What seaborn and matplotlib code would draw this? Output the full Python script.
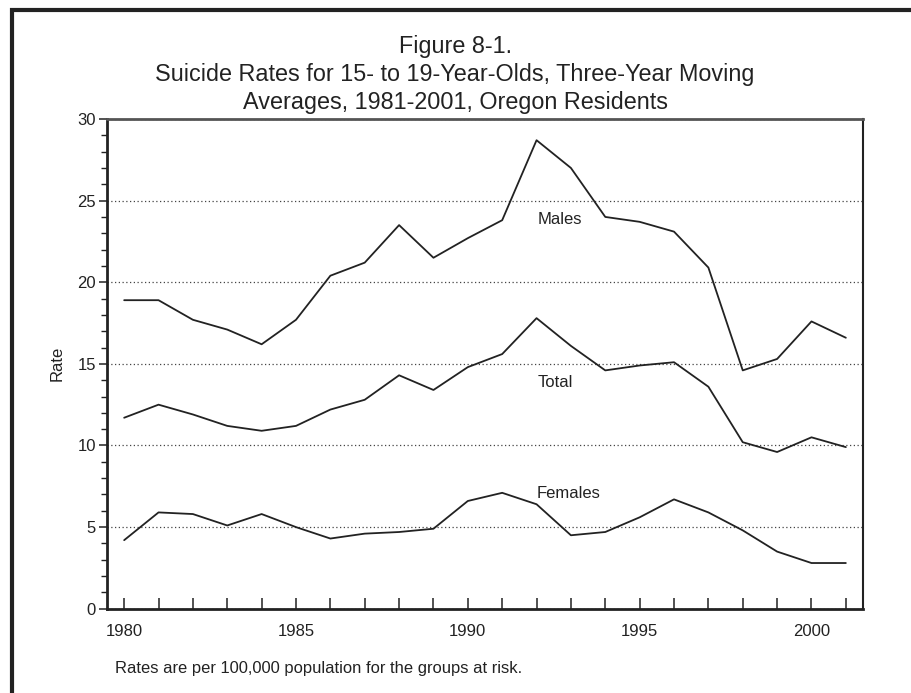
import matplotlib
matplotlib.use("Agg")
import matplotlib.pyplot as plt
from matplotlib.patches import Rectangle
from matplotlib.ticker import MultipleLocator, FixedLocator
import numpy as np
import pandas as pd
import seaborn as sns

# Three-year moving average suicide rates per 100,000, ages 15-19
years = list(range(1980, 2002))
males = [18.9, 18.9, 17.7, 17.1, 16.2, 17.7, 20.4, 21.2, 23.5, 21.5, 22.7,
         23.8, 28.7, 27.0, 24.0, 23.7, 23.1, 20.9, 14.6, 15.3, 17.6, 16.6]
total = [11.7, 12.5, 11.9, 11.2, 10.9, 11.2, 12.2, 12.8, 14.3, 13.4, 14.8,
         15.6, 17.8, 16.1, 14.6, 14.9, 15.1, 13.6, 10.2, 9.6, 10.5, 9.9]
females = [4.2, 5.9, 5.8, 5.1, 5.8, 5.0, 4.3, 4.6, 4.7, 4.9, 6.6,
           7.1, 6.4, 4.5, 4.7, 5.6, 6.7, 5.9, 4.8, 3.5, 2.8, 2.8]
group_names = ["Males", "Total", "Females"]
label_positions = {"Males": (1992.68, 23.85), "Total": (1992.56, 13.85), "Females": (1992.94, 7.04)}
x_tick_labels = [1980, 1985, 1990, 1995, 2000]
y_tick_labels = [0, 5, 10, 15, 20, 25, 30]

df = pd.DataFrame({
    "Year": years * 3,
    "Rate": males + total + females,
    "Group": [g for g in group_names for _ in years],
})

sns.set_style("ticks")
plt.rcParams["font.family"] = ["Liberation Sans", "DejaVu Sans"]

ink = "#222222"
fig = plt.figure(figsize=(9.12, 6.93), dpi=100)
ax = fig.add_axes([0.1173, 0.1216, 0.8290, 0.7067])

sns.lineplot(data=df, x="Year", y="Rate", hue="Group",
             palette={g: ink for g in group_names}, linewidth=1.3,
             legend=False, ax=ax)

ax.set_xlim(1979.5, 2001.5)
ax.set_ylim(0, 30)

# y grid at major ticks, dotted
ax.yaxis.set_major_locator(FixedLocator(y_tick_labels))
ax.yaxis.set_minor_locator(MultipleLocator(1))
ax.grid(axis="y", which="major", linestyle=(0, (1, 2)), color="#444444", linewidth=0.9)
ax.grid(axis="x", visible=False)
ax.set_axisbelow(True)

ax.xaxis.set_major_locator(FixedLocator(x_tick_labels))
ax.xaxis.set_minor_locator(MultipleLocator(1))
ax.tick_params(axis="x", which="both", direction="in", length=8, width=1.1,
               color=ink, labelsize=12, labelcolor=ink, pad=11)
ax.tick_params(axis="y", which="major", direction="out", length=6, width=1.1,
               color=ink, labelsize=12, labelcolor=ink, pad=2)
ax.tick_params(axis="y", which="minor", direction="out", length=4, width=1.0, color=ink)

for side in ["left", "bottom"]:
    ax.spines[side].set_color(ink)
    ax.spines[side].set_linewidth(2.0)
ax.spines["right"].set_color(ink)
ax.spines["right"].set_linewidth(1.5)
ax.spines["top"].set_color("#555555")
ax.spines["top"].set_linewidth(2.0)
ax.spines["top"].set_linestyle((0, (1, 1)))

ax.set_xlabel("")
ax.set_ylabel("Rate", fontsize=12, color=ink, labelpad=9)

for name, (lx, ly) in label_positions.items():
    ax.text(lx, ly, name, fontsize=12, color=ink, ha="center", va="center")

fig.text(0.499, 0.893,
         "Figure 8-1.\nSuicide Rates for 15- to 19-Year-Olds, Three-Year Moving\n"
         "Averages, 1981-2001, Oregon Residents",
         ha="center", va="center", fontsize=16.8, color=ink, linespacing=1.28)

fig.text(0.126, 0.035, "Rates are per 100,000 population for the groups at risk.",
         ha="left", va="center", fontsize=11.9, color=ink)

# page frame running off the right and bottom edges
fig.patches.append(Rectangle((0.0137, -0.2), 1.3, 1.2 - 0.0144, transform=fig.transFigure,
                             fill=False, edgecolor=ink, linewidth=3.0, clip_on=False))

fig.savefig("out.png", dpi=100)
